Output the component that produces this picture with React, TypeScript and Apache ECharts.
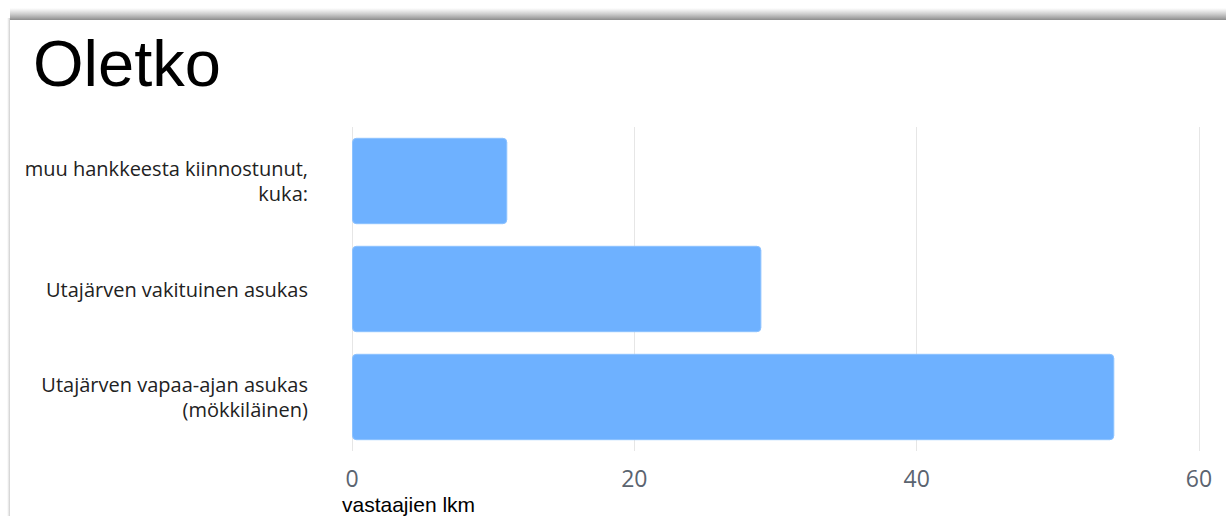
import React, { useEffect, useRef } from "react";
import * as echarts from "echarts";

const categories = [
  "muu hankkeesta kiinnostunut,\nkuka:",
  "Utajärven vakituinen asukas",
  "Utajärven vapaa-ajan asukas\n(mökkiläinen)",
];
const values = [11, 29, 54];
const xTicks = { min: 0, max: 60, interval: 20 };
const titleText = "Oletko";
const axisName = "vastaajien lkm";

export default function App() {
  const ref = useRef<HTMLDivElement>(null);
  useEffect(() => {
    const chart = echarts.init(ref.current!, null, { renderer: "svg" });
    chart.setOption({
      animation: false,
      backgroundColor: "#ffffff",
      title: {
        text: titleText,
        left: 28,
        top: 26,
        textStyle: {
          fontFamily: "Liberation Sans, Arial, sans-serif",
          fontSize: 65,
          fontWeight: "normal",
          color: "#000000",
        },
      },
      graphic: [
        {
          type: "rect",
          shape: { x: 10, y: 8, width: 1216, height: 12 },
          style: {
            fill: new echarts.graphic.LinearGradient(0, 0, 0, 1, [
              { offset: 0, color: "rgba(170,170,170,0)" },
              { offset: 1, color: "rgba(140,140,140,1)" },
            ]),
          },
          z: 10,
        },
        {
          type: "rect",
          shape: { x: 7, y: 18, width: 3, height: 498 },
          style: {
            fill: new echarts.graphic.LinearGradient(0, 0, 1, 0, [
              { offset: 0, color: "rgba(220,220,220,0)" },
              { offset: 1, color: "rgba(205,205,205,1)" },
            ]),
          },
          z: 10,
        },
        {
          type: "text",
          left: 342,
          top: 494,
          style: {
            text: axisName,
            fontFamily: "Liberation Sans, Arial, sans-serif",
            fontSize: 21,
            fill: "#000000",
          },
        },
      ],
      grid: { left: 352, right: 27, top: 127, bottom: 65, containLabel: false },
      xAxis: {
        type: "value",
        min: xTicks.min,
        max: xTicks.max,
        interval: xTicks.interval,
        axisLine: { show: false },
        axisTick: { show: false },
        splitLine: { show: true, lineStyle: { color: "#e6e6e6", width: 1 } },
        axisLabel: {
          margin: 15,
          fontFamily: "Open Sans, sans-serif",
          fontSize: 23,
          color: "#5b6470",
        },
      },
      yAxis: {
        type: "category",
        inverse: true,
        data: categories,
        axisLine: { show: false },
        axisTick: { show: false },
        splitLine: { show: false },
        axisLabel: {
          margin: 44,
          fontFamily: "Open Sans, sans-serif",
          fontSize: 20,
          lineHeight: 25,
          color: "#222222",
          align: "right",
        },
      },
      series: [
        {
          type: "bar",
          data: values,
          barCategoryGap: "20%",
          itemStyle: {
            color: "#6eb1ff",
            borderRadius: 4,
            borderColor: "#8cc2ff",
            borderWidth: 1,
          },
        },
      ],
    });
    return () => chart.dispose();
  }, []);
  return (
    <div
      ref={ref}
      style={{ position: "fixed", left: 0, top: 0, width: 1226, height: 516 }}
    />
  );
}
